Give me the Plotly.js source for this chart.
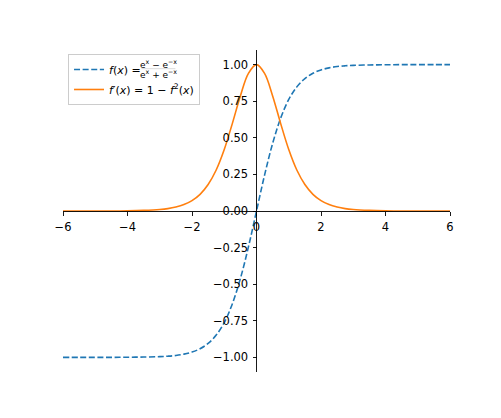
<!DOCTYPE html>
<html>
<head>
<meta charset="utf-8">
<script src="https://cdn.plot.ly/plotly-3.0.1.min.js"></script>
<style>html,body{margin:0;padding:0;background:#fff;}#chart{width:501px;height:418px;}</style>
</head>
<body>
<div id="chart"></div>
<script>
// x sample points
const xs = [-6, -5.5, -5, -4.5, -4, -3.5, -3, -2.75, -2.5, -2.25, -2, -1.75, -1.5, -1.25, -1, -0.75, -0.5, -0.25,
            0, 0.25, 0.5, 0.75, 1, 1.25, 1.5, 1.75, 2, 2.25, 2.5, 2.75, 3, 3.5, 4, 4.5, 5, 5.5, 6];
// f(x) values (dashed blue)
const fVals = [-1.0, -1.0, -1.0, -1.0, -0.999, -0.998, -0.995, -0.992, -0.987, -0.978, -0.964, -0.941, -0.905, -0.848, -0.762, -0.635, -0.462, -0.245,
               0.0, 0.245, 0.462, 0.635, 0.762, 0.848, 0.905, 0.941, 0.964, 0.978, 0.987, 0.992, 0.995, 0.998, 0.999, 1.0, 1.0, 1.0, 1.0];
// f'(x) values (solid orange)
const dVals = [0.0, 0.0, 0.0, 0.0, 0.001, 0.004, 0.010, 0.016, 0.027, 0.044, 0.071, 0.114, 0.181, 0.280, 0.420, 0.597, 0.786, 0.940,
               1.0, 0.940, 0.786, 0.597, 0.420, 0.280, 0.181, 0.114, 0.071, 0.044, 0.027, 0.016, 0.010, 0.004, 0.001, 0.0, 0.0, 0.0, 0.0];
const xTicks = [-6, -4, -2, 0, 2, 4, 6];
const yTicks = [-1.0, -0.75, -0.5, -0.25, 0.0, 0.25, 0.5, 0.75, 1.0];
const seriesNames = ['<i>f</i>(<i>x</i>) =', '<i>f</i>′(<i>x</i>) = 1 − <i>f</i><sup>2</sup>(<i>x</i>)'];
const fracNumerator = 'e<sup>x</sup> − e<sup>−x</sup>';
const fracDenominator = 'e<sup>x</sup> + e<sup>−x</sup>';

const font = {family: 'DejaVu Sans, sans-serif', size: 11, color: '#000'};
const tickFont = {family: 'DejaVu Sans, sans-serif', size: 11.5, color: '#000'};
const fracFont = {family: 'DejaVu Sans, sans-serif', size: 9, color: '#000'};
const traces = [
  {x: xs, y: fVals, mode: 'lines', name: seriesNames[0], legendgroup: 'a',
   line: {color: '#1f77b4', width: 1.6, dash: '6px,2.6px', shape: 'spline'}},
  {x: xs, y: dVals, mode: 'lines', name: seriesNames[1], legendgroup: 'b',
   line: {color: '#ff7f0e', width: 1.6, shape: 'spline'}}
];
const axisCommon = {
  showline: true, linecolor: '#000', linewidth: 0.9,
  ticks: 'outside', ticklen: 4, tickwidth: 0.9, tickcolor: '#000',
  showgrid: false, zeroline: false, anchor: 'free', position: 0.5,
  tickfont: tickFont
};
const layout = {
  width: 501, height: 418,
  margin: {l: 63, r: 51, t: 50, b: 46, pad: 0},
  paper_bgcolor: '#fff', plot_bgcolor: '#fff',
  font: font,
  xaxis: Object.assign({}, axisCommon, {range: [-6, 6], tickvals: xTicks, ticktext: xTicks.map(v => (v < 0 ? '−' : '') + Math.abs(v)), side: 'bottom', ticklabelstandoff: 1}),
  yaxis: Object.assign({}, axisCommon, {range: [-1.1, 1.1], tickvals: yTicks, tickformat: '.2f', side: 'left', ticklabelstandoff: 2}),
  showlegend: true,
  legend: {x: 0.013, y: 0.9876, xanchor: 'left', yanchor: 'top', bgcolor: 'rgba(255,255,255,0.8)',
           bordercolor: '#cccccc', borderwidth: 1, font: font, traceorder: 'grouped', tracegroupgap: 1},
  annotations: [
    {xref: 'paper', yref: 'paper', x: 0.2465, y: 0.958, xanchor: 'center', yanchor: 'middle', showarrow: false,
     text: fracNumerator, font: fracFont},
    {xref: 'paper', yref: 'paper', x: 0.2465, y: 0.925, xanchor: 'center', yanchor: 'middle', showarrow: false,
     text: fracDenominator, font: fracFont}
  ],
  shapes: [
    {type: 'line', xref: 'paper', yref: 'paper', x0: 0.2025, x1: 0.2905, y0: 0.942, y1: 0.942, line: {color: '#000', width: 0.7}}
  ]
};
Plotly.newPlot('chart', traces, layout, {displayModeBar: false, staticPlot: true});
</script>
</body>
</html>
